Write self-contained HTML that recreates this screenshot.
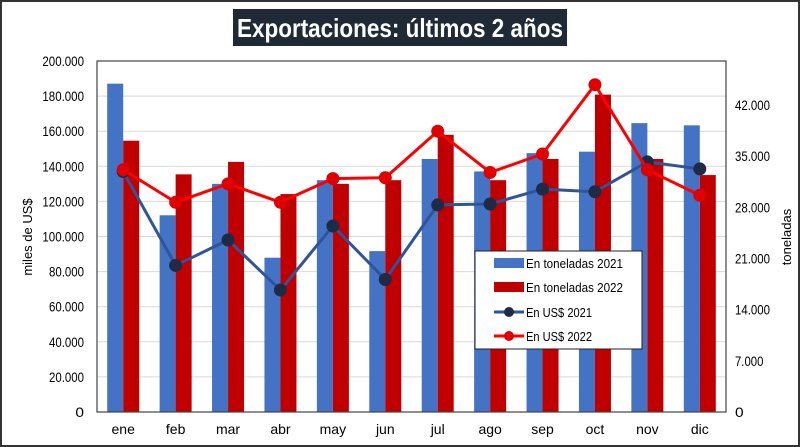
<!DOCTYPE html>
<html><head><meta charset="utf-8"><style>
body{margin:0;background:#fff;}
svg{display:block;font-family:"Liberation Sans",sans-serif;}
</style></head><body>
<svg id="chart" width="800" height="447" viewBox="0 0 800 447">
<rect x="1" y="1" width="798" height="445" fill="#fff" stroke="#333" stroke-width="2"/>
<rect x="233" y="9" width="334" height="37" fill="#1f2a36"/>
<text x="237" y="37" textLength="326" lengthAdjust="spacingAndGlyphs" fill="#fff" font-size="26" font-weight="bold">Exportaciones: últimos 2 años</text>
<g id="grid"></g><g id="bars"></g><g id="lines"></g><g id="axes"></g>
<text transform="translate(32,237) rotate(-90)" text-anchor="middle" font-size="13">miles de US$</text>
<text transform="translate(791,237) rotate(-90)" text-anchor="middle" font-size="13">toneladas</text>
<g>
<rect x="475" y="251" width="167" height="98" fill="#fff" stroke="#222" stroke-width="1"/>
<g><rect x="494" y="258" width="30" height="10" fill="#4472c4"/><text x="526" y="268" font-size="13" textLength="97" lengthAdjust="spacingAndGlyphs">En toneladas 2021</text></g>
<g><rect x="494" y="282" width="30" height="10" fill="#c00000"/><text x="526" y="292" font-size="13" textLength="97" lengthAdjust="spacingAndGlyphs">En toneladas 2022</text></g>
<g><line x1="494" y1="312" x2="524" y2="312" stroke="#2f5597" stroke-width="3"/><circle cx="509" cy="312" r="5" fill="#1f2a44"/><text x="526" y="317" font-size="13" textLength="66" lengthAdjust="spacingAndGlyphs">En US$ 2021</text></g>
<g><line x1="494" y1="336" x2="524" y2="336" stroke="#ff0000" stroke-width="3"/><circle cx="509" cy="336" r="5" fill="#e00000"/><text x="526" y="341" font-size="13" textLength="66" lengthAdjust="spacingAndGlyphs">En US$ 2022</text></g>
</g>
</svg>
<script>
const months=["ene","feb","mar","abr","may","jun","jul","ago","sep","oct","nov","dic"];
const ton2021=[44900,26900,31200,21100,31700,22000,34600,32900,35400,35600,39500,39200];
const ton2022=[37100,32500,34200,29800,31200,31700,37900,31700,34600,43400,34600,32400];
const usd2021=[137000,83500,98000,69500,106000,75500,118000,118500,127000,125500,142500,138500];
const usd2022=[138000,119500,130000,119500,133000,133500,160000,136500,147000,186500,138000,123500];
const leftTicks=["0","20.000","40.000","60.000","80.000","100.000","120.000","140.000","160.000","180.000","200.000"];
const rightTicks=["0","7.000","14.000","21.000","28.000","35.000","42.000"];
const L=97,R=726,T=61,B=412,LMAX=200000,RMAX=48000;
const NS="http://www.w3.org/2000/svg";
const yl=v=>B-(v/LMAX)*(B-T), yr=v=>B-(v/RMAX)*(B-T);
const cw=(R-L)/months.length, xc=i=>L+cw*(i+0.5);
function mk(tag,attrs,parent){const e=document.createElementNS(NS,tag);for(const k in attrs)e.setAttribute(k,attrs[k]);document.getElementById(parent).appendChild(e);return e;}
const tl=s=>(s.replace(".","").length*6.6+2).toFixed(1);
leftTicks.forEach((t,i)=>{const v=i*20000,y=yl(v);
 const g=mk("line",{x1:L,x2:R,y1:y,y2:y,stroke:"#d9d9d9","stroke-width":1},"grid");
 
 
 const tx=mk("text",{x:L-13,y:y+5,"text-anchor":"end","font-size":13.5,textLength:tl(t),lengthAdjust:"spacingAndGlyphs"},"axes");tx.textContent=t;
 
 });
rightTicks.forEach((t,i)=>{const y=yr(i*7000);
 const tx=mk("text",{x:R+9,y:y+5,"font-size":13.5,textLength:tl(t),lengthAdjust:"spacingAndGlyphs"},"axes");tx.textContent=t;
 
 });
const frame=mk("rect",{x:L,y:T,width:R-L,height:B-T,fill:"none",stroke:"#444","stroke-width":1.2},"axes");


months.forEach((m,i)=>{
 const b1=mk("rect",{x:xc(i)-16,y:yr(ton2021[i]),width:16,height:B-yr(ton2021[i]),fill:"#4472c4"},"bars");
 
 
 const b2=mk("rect",{x:xc(i),y:yr(ton2022[i]),width:16,height:B-yr(ton2022[i]),fill:"#c00000"},"bars");
 
 
 const tx=mk("text",{x:xc(i),y:B+22,"text-anchor":"middle","font-size":14},"axes");tx.textContent=m;
 
 });
function series(vals,color,mcolor,name){
 const pts=vals.map((v,i)=>xc(i)+","+yl(v)).join(" ");
 const pl=mk("polyline",{points:pts,fill:"none",stroke:color,"stroke-width":3,"stroke-linejoin":"round"},"lines");
 
 
 vals.forEach((v,i)=>{const c=mk("circle",{cx:xc(i),cy:yl(v),r:6.5,fill:mcolor},"lines");
  
  });
}
series(usd2021,"#2f5597","#1f2a44","usd-2021");
series(usd2022,"#ff0000","#e00000","usd-2022");
</script>
</body></html>
